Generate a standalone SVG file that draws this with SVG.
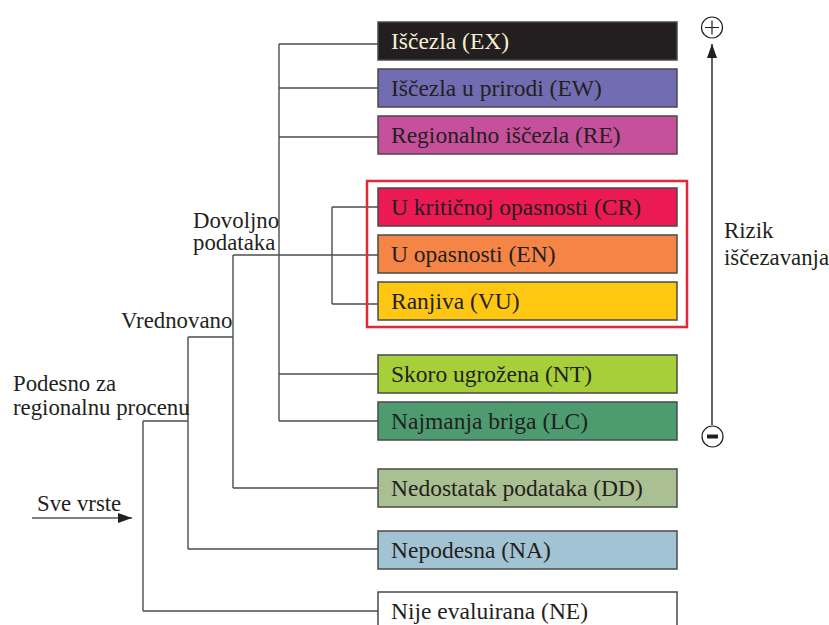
<svg xmlns="http://www.w3.org/2000/svg" width="829" height="625" viewBox="0 0 829 625">
<defs>
<style>
.box{stroke:#4a4a4a;stroke-width:1.5}
.lbl{font-family:'Liberation Serif','Times New Roman',serif;font-size:23.5px;fill:#231f20}
.side{font-family:'Liberation Serif','Times New Roman',serif;font-size:22.8px;fill:#231f20}
.con{fill:none;stroke:#4d4d4d;stroke-width:1.4}
</style>
<marker id="ah2" viewBox="0 0 14 10" refX="14" refY="5" markerWidth="14" markerHeight="10" markerUnits="userSpaceOnUse" orient="auto">
<path d="M0,0 L14,5 L0,10 Z" fill="#231f20"/>
</marker>
</defs>
<rect width="829" height="625" fill="#ffffff"/>

<g id="connectors">
<path class="con" d="M279,44 V421 M279,44 H378 M279,88 H378 M279,137 H378 M279,374 H378 M279,421 H378"/>
<path class="con" d="M332,207 V304 M332,207 H378 M332,304 H378"/>
<path class="con" d="M233,255 V488 M233,255 H378 M233,488 H378"/>
<path class="con" d="M188,337 V549 M188,337 H233 M188,549 H378"/>
<path class="con" d="M143,421 V611 M143,421 H188 M143,611 H378"/>
<line x1="32" y1="518" x2="132" y2="518" stroke="#555" stroke-width="1.5" marker-end="url(#ah2)"/>
<line x1="712" y1="425" x2="712" y2="44" stroke="#231f20" stroke-width="1.4" marker-end="url(#ah2)"/>
</g>

<rect id="threatened-frame" x="367" y="181" width="320" height="146" fill="none" stroke="#e8263a" stroke-width="2.5"/>

<g id="EX"><rect class="box" x="378" y="22" width="299" height="38" fill="#231f20"/><text class="lbl" x="391" y="49" style="fill:#f6f0d2">Iščezla (EX)</text></g>
<g id="EW"><rect class="box" x="378" y="69" width="299" height="38" fill="#726cb2"/><text class="lbl" x="391" y="96">Iščezla u prirodi (EW)</text></g>
<g id="RE"><rect class="box" x="378" y="116" width="299" height="38" fill="#c5509b"/><text class="lbl" x="391" y="143">Regionalno iščezla (RE)</text></g>
<g id="CR"><rect class="box" x="378" y="188" width="299" height="38" fill="#ec1a52"/><text class="lbl" x="391" y="215">U kritičnoj opasnosti (CR)</text></g>
<g id="EN"><rect class="box" x="378" y="235" width="299" height="38" fill="#f58447"/><text class="lbl" x="391" y="262">U opasnosti (EN)</text></g>
<g id="VU"><rect class="box" x="378" y="282" width="299" height="38" fill="#fec812"/><text class="lbl" x="391" y="309">Ranjiva (VU)</text></g>
<g id="NT"><rect class="box" x="378" y="355" width="299" height="38" fill="#a6cf3a"/><text class="lbl" x="391" y="382">Skoro ugrožena (NT)</text></g>
<g id="LC"><rect class="box" x="378" y="402" width="299" height="38" fill="#4d9b6f"/><text class="lbl" x="391" y="429">Najmanja briga (LC)</text></g>
<g id="DD"><rect class="box" x="378" y="469" width="299" height="38" fill="#abc092"/><text class="lbl" x="391" y="496">Nedostatak podataka (DD)</text></g>
<g id="NA"><rect class="box" x="378" y="531" width="299" height="38" fill="#a2c3d3"/><text class="lbl" x="391" y="558">Nepodesna (NA)</text></g>
<g id="NE"><rect class="box" x="378" y="592" width="299" height="40" fill="#ffffff"/><text class="lbl" x="391" y="619">Nije evaluirana (NE)</text></g>

<g id="labels">
<text class="side" x="193" y="228">Dovoljno</text>
<text class="side" x="193" y="250">podataka</text>
<text class="side" x="121" y="328">Vrednovano</text>
<text class="side" x="13" y="391">Podesno za</text>
<text class="side" x="13" y="415">regionalnu procenu</text>
<text class="side" x="37" y="511">Sve vrste</text>
<text class="side" x="724" y="238">Rizik</text>
<text class="side" x="724" y="265">iščezavanja</text>
</g>

<g id="plus">
<circle cx="712" cy="27.5" r="10.5" fill="none" stroke="#231f20" stroke-width="1.2"/>
<path d="M705,27.5 H719 M712,20.5 V34.5" stroke="#231f20" stroke-width="1.2"/>
</g>
<g id="minus">
<circle cx="712.5" cy="436.5" r="10.5" fill="none" stroke="#231f20" stroke-width="1.2"/>
<rect x="707" y="434.5" width="11" height="4" fill="#231f20"/>
</g>
</svg>
